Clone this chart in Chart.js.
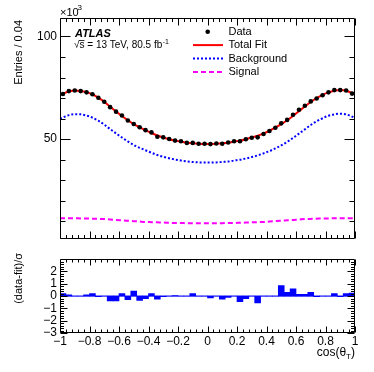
<!DOCTYPE html>
<html>
<head>
<meta charset="utf-8">
<script src="https://cdn.jsdelivr.net/npm/chart.js@4.4.0/dist/chart.umd.min.js"></script>
<style>
body { margin: 0; background: #fff; }
#wrap { position: relative; width: 374px; height: 372px; }
canvas { position: absolute; left: 0; }
</style>
</head>
<body>
<div id="wrap">
  <canvas id="mainChart" width="374" height="249" style="top:0"></canvas>
  <canvas id="ratioChart" width="374" height="123" style="top:249px"></canvas>
</div>
<script>
// bin centres of cos(theta_T), width 0.04
const binCenters = [-0.98, -0.94, -0.90, -0.86, -0.82, -0.78, -0.74, -0.70, -0.66, -0.62,
  -0.58, -0.54, -0.50, -0.46, -0.42, -0.38, -0.34, -0.30, -0.26, -0.22,
  -0.18, -0.14, -0.10, -0.06, -0.02, 0.02, 0.06, 0.10, 0.14, 0.18,
  0.22, 0.26, 0.30, 0.34, 0.38, 0.42, 0.46, 0.50, 0.54, 0.58,
  0.62, 0.66, 0.70, 0.74, 0.78, 0.82, 0.86, 0.90, 0.94, 0.98];

// data entries (x10^3)
const dataValues = [72.0, 73.4, 73.7, 73.4, 72.8, 71.9, 70.2, 68.2, 65.6, 63.4,
  61.5, 59.1, 57.4, 55.8, 54.4, 53.3, 51.2, 50.9, 50.1, 49.3,
  49.0, 48.2, 48.2, 47.8, 47.8, 47.6, 47.9, 47.8, 48.4, 49.0,
  49.0, 50.0, 50.7, 50.9, 52.5, 54.0, 55.6, 57.7, 59.4, 61.9,
  64.3, 66.3, 68.4, 69.8, 71.4, 72.8, 73.9, 73.9, 73.7, 72.2];

// curves are sampled at the range edges plus the bin centres
const curveX = [-1].concat(binCenters, [1]);

const fitValues = [71.5,
  72.1, 73.2, 73.7, 73.5, 72.9, 71.8, 70.2, 68.2, 65.8, 63.5,
  61.3, 59.2, 57.3, 55.7, 54.3, 53.0, 51.8, 50.8, 50.0, 49.3,
  48.8, 48.3, 48.0, 47.8, 47.7, 47.7, 47.8, 48.0, 48.3, 48.8,
  49.3, 50.0, 50.8, 51.7, 52.8, 54.1, 55.6, 57.3, 59.2, 61.3,
  63.6, 65.9, 68.1, 70.0, 71.6, 72.8, 73.6, 73.9, 73.6, 72.5,
  71.8];

const backgroundValues = [60.0,
  60.6, 61.7, 62.2, 62.1, 61.5, 60.5, 59.0, 57.1, 54.9, 52.8,
  50.8, 48.9, 47.2, 45.8, 44.6, 43.4, 42.3, 41.4, 40.7, 40.1,
  39.6, 39.2, 38.9, 38.7, 38.6, 38.6, 38.7, 38.9, 39.1, 39.6,
  40.0, 40.6, 41.3, 42.1, 43.1, 44.2, 45.5, 47.0, 48.7, 50.6,
  52.7, 54.8, 56.9, 58.7, 60.2, 61.4, 62.1, 62.4, 62.1, 61.0,
  60.3];

const signalValues = [11.5,
  11.5, 11.5, 11.5, 11.4, 11.4, 11.3, 11.2, 11.1, 10.9, 10.7,
  10.5, 10.3, 10.1, 9.9, 9.7, 9.6, 9.5, 9.4, 9.3, 9.2,
  9.2, 9.1, 9.1, 9.1, 9.1, 9.1, 9.1, 9.1, 9.2, 9.2,
  9.3, 9.4, 9.5, 9.6, 9.7, 9.9, 10.1, 10.3, 10.5, 10.7,
  10.9, 11.1, 11.2, 11.3, 11.4, 11.4, 11.5, 11.5, 11.5, 11.5,
  11.5];

// (data-fit)/sigma per bin
const pullValues = [0.2, 0.1, 0.0, 0.0, 0.1, 0.2, -0.05, 0.0, -0.4, -0.4,
  0.2, -0.3, 0.4, -0.35, -0.2, 0.2, -0.25, -0.05, 0.0, 0.05,
  0.0, 0.0, 0.2, 0.0, 0.0, -0.15, 0.0, -0.25, -0.1, 0.0,
  -0.45, -0.2, 0.0, -0.55, 0.0, 0.0, 0.0, 0.85, 0.3, 0.6,
  0.15, 0.15, 0.3, -0.05, 0.0, 0.0, 0.2, -0.05, 0.2, 0.25];

const xTickLabels = [-1, -0.8, -0.6, -0.4, -0.2, 0, 0.2, 0.4, 0.6, 0.8, 1];
const yMainLabels = [50, 100];
const yRatioLabels = [-3, -2, -1, 0, 1, 2];

const FONT = '"Liberation Sans", Arial, Helvetica, sans-serif';

function fmt(v) {
  const r = Math.round(v * 10) / 10;
  return r < 0 ? '\u2212' + String(-r) : String(r);
}

function pts(xs, ys) {
  return xs.map((x, i) => ({ x: x, y: ys[i] }));
}

function steps(from, to, step) {
  const out = [];
  for (let v = from; v <= to + 1e-9; v += step) out.push(v);
  return out;
}

// ROOT style frame with ticks pointing inwards
function drawFrame(chart, o) {
  const ctx = chart.ctx;
  const a = chart.chartArea;
  const xs = chart.scales.x, ys = chart.scales.y;
  ctx.save();
  ctx.strokeStyle = '#000';
  ctx.lineWidth = 1;
  ctx.beginPath();
  const L = Math.round(a.left) + 0.5, R = Math.round(a.right) - 0.5;
  const T = Math.round(a.top) + 0.5, B = Math.round(a.bottom) - 0.5;
  ctx.moveTo(L, T); ctx.lineTo(R, T); ctx.lineTo(R, B); ctx.lineTo(L, B); ctx.closePath();
  steps(-1, 1, 0.04).forEach((v, i) => {
    const len = (i % 5 === 0) ? o.xMajor : o.xMajor / 2;
    const px = Math.round(xs.getPixelForValue(v)) + 0.5;
    ctx.moveTo(px, T); ctx.lineTo(px, T + len);
    ctx.moveTo(px, B); ctx.lineTo(px, B - len);
  });
  steps(o.yFrom, o.yTo, o.yStep).forEach((v) => {
    if (v < ys.min || v > ys.max) return;
    const major = Math.abs(v / o.yMajorStep - Math.round(v / o.yMajorStep)) < 1e-6;
    const len = major ? o.yMajor : o.yMajor / 2;
    const py = Math.round(ys.getPixelForValue(v)) + 0.5;
    ctx.moveTo(L, py); ctx.lineTo(L + len, py);
    ctx.moveTo(R, py); ctx.lineTo(R - len, py);
  });
  ctx.stroke();
  ctx.restore();
}

const mainDecor = {
  id: 'mainDecor',
  afterDraw(chart) {
    drawFrame(chart, { xMajor: 7, yFrom: 10, yTo: 100, yStep: 10, yMajorStep: 50, yMajor: 10 });
    const ctx = chart.ctx;
    ctx.save();
    ctx.fillStyle = '#000';
    // x10^3
    ctx.font = '11px ' + FONT;
    ctx.textBaseline = 'alphabetic';
    ctx.textAlign = 'left';
    ctx.fillText('\u00d710', 60, 16);
    ctx.font = '8px ' + FONT;
    ctx.fillText('3', 60 + ctx.measureText('\u00d710').width + 4, 10);
    // y title
    ctx.font = '11px ' + FONT;
    ctx.translate(19, 20);
    ctx.rotate(-Math.PI / 2);
    ctx.textAlign = 'right';
    ctx.textBaseline = 'middle';
    ctx.fillText('Entries / 0.04', 0, 0);
    ctx.restore();

    // ATLAS label
    ctx.save();
    ctx.fillStyle = '#000';
    ctx.textAlign = 'left';
    ctx.textBaseline = 'alphabetic';
    ctx.font = 'italic bold 11px ' + FONT;
    ctx.fillText('ATLAS', 75, 37);
    ctx.font = '10px ' + FONT;
    const t1 = '\u221as = 13 TeV, 80.5 fb';
    ctx.fillText(t1, 74, 48);
    const w1 = ctx.measureText(t1).width;
    ctx.font = '7px ' + FONT;
    ctx.fillText('-1', 74 + w1 + 0.5, 44);
    // overline over s
    ctx.font = '10px ' + FONT;
    const wr = ctx.measureText('\u221a').width;
    const ws = ctx.measureText('s').width;
    ctx.fillRect(74 + wr - 0.5, 40, ws + 0.5, 0.8);
    ctx.restore();

    // legend
    ctx.save();
    ctx.font = '11px ' + FONT;
    ctx.textAlign = 'left';
    ctx.textBaseline = 'middle';
    ctx.fillStyle = '#000';
    const rows = [31.7, 45.1, 58.5, 71.9];
    const names = ['Data', 'Total Fit', 'Background', 'Signal'];
    names.forEach((n, i) => ctx.fillText(n, 228.5, rows[i]));
    ctx.beginPath();
    ctx.arc(207.7, rows[0], 2.3, 0, Math.PI * 2);
    ctx.fill();
    ctx.lineWidth = 2;
    ctx.strokeStyle = '#ff0000';
    ctx.beginPath(); ctx.moveTo(193, rows[1]); ctx.lineTo(223, rows[1]); ctx.stroke();
    ctx.strokeStyle = '#0000ff';
    ctx.setLineDash([2, 2]);
    ctx.beginPath(); ctx.moveTo(193, rows[2]); ctx.lineTo(223, rows[2]); ctx.stroke();
    ctx.strokeStyle = '#ff00ff';
    ctx.setLineDash([5, 3]);
    ctx.beginPath(); ctx.moveTo(193, rows[3]); ctx.lineTo(223, rows[3]); ctx.stroke();
    ctx.restore();
  }
};

const ratioDecor = {
  id: 'ratioDecor',
  beforeDatasetsDraw(chart) {
    // light zero line of the pull histogram
    const ctx = chart.ctx;
    const a = chart.chartArea;
    const py = Math.round(chart.scales.y.getPixelForValue(0));
    ctx.save();
    ctx.fillStyle = '#b4b4ff';
    ctx.fillRect(a.left, py - 1, a.right - a.left, 2);
    ctx.restore();
  },
  afterDraw(chart) {
    drawFrame(chart, { xMajor: 6, yFrom: -3, yTo: 3, yStep: 0.2, yMajorStep: 1, yMajor: 7 });
    const ctx = chart.ctx;
    ctx.save();
    ctx.fillStyle = '#000';
    ctx.font = '11px ' + FONT;
    ctx.translate(19, 4);
    ctx.rotate(-Math.PI / 2);
    ctx.textAlign = 'right';
    ctx.textBaseline = 'middle';
    ctx.fillText('(data-fit)/\u03c3', 0, 0);
    ctx.restore();

    // x title cos(theta_T), right aligned at the frame edge
    ctx.save();
    ctx.fillStyle = '#000';
    ctx.textBaseline = 'alphabetic';
    ctx.textAlign = 'left';
    const right = chart.chartArea.right;
    ctx.font = '12px ' + FONT;
    const p1 = 'cos(\u03b8', p3 = ')';
    const w1 = ctx.measureText(p1).width, w3 = ctx.measureText(p3).width;
    ctx.font = '8px ' + FONT;
    const w2 = ctx.measureText('T').width;
    const x0 = right - (w1 + w2 + w3);
    const base = 107;
    ctx.font = '12px ' + FONT;
    ctx.fillText(p1, x0, base);
    ctx.font = '8px ' + FONT;
    ctx.fillText('T', x0 + w1, base + 3);
    ctx.font = '12px ' + FONT;
    ctx.fillText(p3, x0 + w1 + w2, base);
    ctx.restore();
  }
};

new Chart(document.getElementById('mainChart'), {
  type: 'line',
  data: {
    datasets: [{
      label: 'Data',
      data: pts(binCenters, dataValues),
      showLine: false,
      pointRadius: 2.3,
      pointBackgroundColor: '#000',
      pointBorderWidth: 0
    }, {
      label: 'Total Fit',
      data: pts(curveX, fitValues),
      borderColor: '#ff0000',
      borderWidth: 2,
      pointRadius: 0,
      cubicInterpolationMode: 'monotone'
    }, {
      label: 'Background',
      data: pts(curveX, backgroundValues),
      borderColor: '#0000ff',
      borderWidth: 2,
      borderDash: [2, 2],
      pointRadius: 0,
      cubicInterpolationMode: 'monotone'
    }, {
      label: 'Signal',
      data: pts(curveX, signalValues),
      borderColor: '#ff00ff',
      borderWidth: 2,
      borderDash: [5, 3],
      pointRadius: 0,
      cubicInterpolationMode: 'monotone'
    }]
  },
  options: {
    responsive: false,
    animation: false,
    devicePixelRatio: 1,
    layout: { padding: { left: 0, right: 19, top: 18, bottom: 0 } },
    plugins: { legend: { display: false }, tooltip: { enabled: false } },
    scales: {
      x: { type: 'linear', min: -1, max: 1, display: false },
      y: {
        type: 'linear', min: 1.5, max: 109,
        grid: { display: false, drawTicks: false, tickLength: 0 },
        border: { display: false },
        afterBuildTicks: (s) => { s.ticks = yMainLabels.map(v => ({ value: v })); },
        afterFit: (s) => { s.width = 60; },
        ticks: {
          padding: 3,
          autoSkip: false,
          color: '#000',
          font: { family: FONT, size: 12 },
          callback: (v) => String(v)
        }
      }
    }
  },
  plugins: [mainDecor]
});

new Chart(document.getElementById('ratioChart'), {
  type: 'bar',
  data: {
    datasets: [{
      data: pts(binCenters, pullValues),
      backgroundColor: '#0000ff',
      borderWidth: 0,
      barPercentage: 1,
      categoryPercentage: 1
    }]
  },
  options: {
    responsive: false,
    animation: false,
    devicePixelRatio: 1,
    layout: { padding: { left: 0, right: 19, top: 0, bottom: 0 } },
    plugins: { legend: { display: false }, tooltip: { enabled: false } },
    scales: {
      x: {
        type: 'linear', min: -1, max: 1, offset: false,
        grid: { display: false, offset: false, drawTicks: false, tickLength: 0 },
        border: { display: false },
        afterBuildTicks: (s) => { s.ticks = xTickLabels.map(v => ({ value: v })); },
        afterFit: (s) => { s.height = 39; },
        ticks: {
          padding: 1,
          maxRotation: 0,
          autoSkip: false,
          color: '#000',
          font: { family: FONT, size: 12 },
          callback: (v) => fmt(v)
        }
      },
      y: {
        type: 'linear', min: -3, max: 3, beginAtZero: false,
        grid: { display: false, drawTicks: false, tickLength: 0 },
        border: { display: false },
        afterBuildTicks: (s) => { s.ticks = yRatioLabels.map(v => ({ value: v })); },
        afterFit: (s) => { s.width = 60; },
        ticks: {
          padding: 3,
          autoSkip: false,
          color: '#000',
          font: { family: FONT, size: 12 },
          callback: (v) => fmt(v)
        }
      }
    }
  },
  plugins: [ratioDecor]
});
</script>
</body>
</html>
